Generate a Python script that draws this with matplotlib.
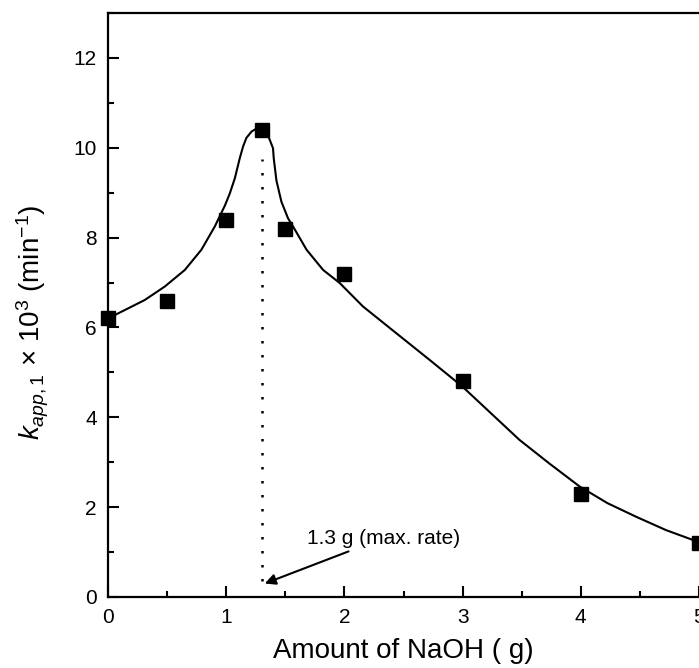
import numpy as np
import matplotlib
matplotlib.use('Agg')
import matplotlib.pyplot as plt
from matplotlib.ticker import MultipleLocator

plt.rcParams['font.family'] = ['Liberation Sans', 'DejaVu Sans']
plt.rcParams['mathtext.fontset'] = 'custom'
plt.rcParams['mathtext.rm'] = 'Liberation Sans'
plt.rcParams['mathtext.it'] = 'Liberation Sans:italic'

# measured points
naoh = [0, 0.5, 1.0, 1.3, 1.5, 2.0, 3.0, 4.0, 5.0]
k_app = [6.2, 6.6, 8.4, 10.4, 8.2, 7.2, 4.8, 2.3, 1.2]

# fitted curve (left branch up to the peak)
fit_left_x = [0.0, 0.03, 0.144, 0.31, 0.48, 0.65, 0.79, 0.904, 0.99, 1.03, 1.073,
              1.115, 1.143, 1.171, 1.214, 1.27, 1.30]
fit_left_y = [6.17, 6.24, 6.39, 6.61, 6.91, 7.28, 7.73, 8.25, 8.72, 8.98, 9.32,
              9.77, 10.03, 10.22, 10.36, 10.45, 10.44]

# right branch after the peak
fit_right_x = [1.30, 1.34, 1.368, 1.396, 1.402, 1.425, 1.467, 1.523, 1.565, 1.68,
               1.82, 1.96, 2.156, 2.44, 2.72, 3.00, 3.24, 3.48, 3.73, 3.99,
               4.225, 4.465, 4.72, 5.0]
fit_right_y = [10.44, 10.36, 10.18, 9.99, 9.77, 9.27, 8.80, 8.43, 8.25, 7.73,
               7.28, 6.99, 6.47, 5.87, 5.28, 4.68, 4.09, 3.50, 2.98, 2.46,
               2.09, 1.79, 1.49, 1.22]

peak_x = 1.3
peak_line_y = [0.35, 9.75]

fig = plt.figure(figsize=(6.99, 6.68), dpi=100)
ax = fig.add_axes([108/699, 71/668, 591/699, 584/668])

ax.plot(fit_left_x, fit_left_y, color='black', lw=1.5)
ax.plot(fit_right_x, fit_right_y, color='black', lw=1.5)
ax.plot(naoh, k_app, 's', color='black', markersize=10, clip_on=False, zorder=5)
ax.plot([peak_x, peak_x], peak_line_y, color='black', lw=1.8, linestyle=(0, (1, 4.6)))

ax.annotate('1.3 g (max. rate)', xy=(1.326, 0.30), xytext=(1.68, 1.31),
            fontsize=15, va='center', ha='left',
            arrowprops=dict(arrowstyle='-|>', color='black', lw=1.5,
                            shrinkA=2, shrinkB=0, mutation_scale=16),
            )

ax.set_xlim(0, 5)
ax.set_ylim(0, 13)
ax.xaxis.set_major_locator(MultipleLocator(1))
ax.xaxis.set_minor_locator(MultipleLocator(0.5))
ax.yaxis.set_major_locator(MultipleLocator(2))
ax.yaxis.set_minor_locator(MultipleLocator(1))
ax.tick_params(which='both', direction='in', top=False, right=False, width=1.5,
               labelsize=15, pad=8)
ax.tick_params(which='major', length=8)
ax.tick_params(which='minor', length=4)
for s in ax.spines.values():
    s.set_linewidth(1.6)
ax.spines['right'].set_linewidth(0.6)
ax.spines['right'].set_color('#888888')

ax.set_xlabel('Amount of NaOH ( g)', fontsize=20, labelpad=8)
ax.set_ylabel(r'$k_{app,1}$ $\times$ 10$^3$ (min$^{-1}$)', fontsize=20)
ax.yaxis.set_label_coords(-0.096, 0.47)

fig.savefig('out.png', dpi=100)
